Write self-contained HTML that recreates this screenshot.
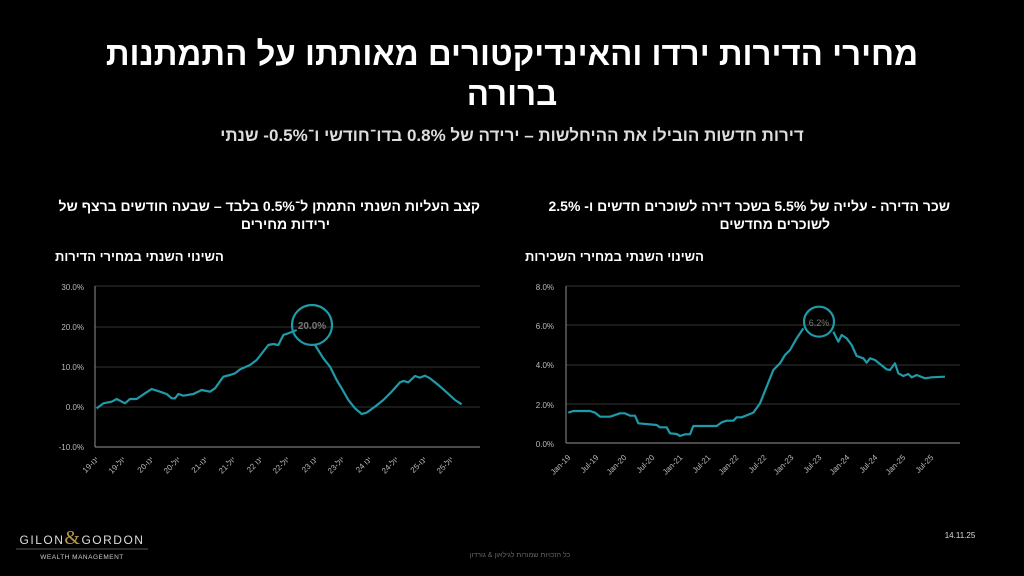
<!DOCTYPE html>
<html><head><meta charset="utf-8"><style>
body{margin:0;background:#000;width:1024px;height:576px;overflow:hidden;position:relative;font-family:"Liberation Sans","Noto Sans CJK SC",sans-serif;color:#fff}
.t{position:absolute;direction:rtl;white-space:nowrap}
</style></head><body>
<div class="t" style="left:0;width:1024px;top:34px;font-size:33px;font-weight:bold;line-height:40px;text-align:center">מחירי הדירות ירדו והאינדיקטורים מאותתו על התמתנות<br>ברורה</div>
<div class="t" style="left:0;width:1024px;top:126px;font-size:17px;font-weight:bold;color:#ddd;text-align:center">דירות חדשות הובילו את ההיחלשות – ירידה של 0.8% בדו־חודשי ו־0.5%- שנתי</div>
<div class="t" style="right:544px;top:198px;font-size:14px;font-weight:bold">קצב העליות השנתי התמתן ל־0.5% בלבד – שבעה חודשים ברצף של</div>
<div class="t" style="right:694px;top:216px;font-size:14px;font-weight:bold">ירידות מחירים</div>
<div class="t" style="left:55px;top:249px;font-size:13px;font-weight:bold">השינוי השנתי במחירי הדירות</div>
<div class="t" style="right:74px;top:198px;font-size:14px;font-weight:bold">שכר הדירה - עלייה של 5.5% בשכר דירה לשוכרים חדשים ו- 2.5%</div>
<div class="t" style="right:194px;top:216px;font-size:14px;font-weight:bold">לשוכרים מחדשים</div>
<div class="t" style="left:525px;top:249px;font-size:13px;font-weight:bold">השינוי השנתי במחירי השכירות</div>
<svg width="1024" height="576" style="position:absolute;left:0;top:0" font-family="Liberation Sans, Noto Sans CJK SC, sans-serif">
<g stroke="#333" stroke-width="1">
<line x1="95" y1="286" x2="480" y2="286"/><line x1="95" y1="327" x2="480" y2="327"/><line x1="95" y1="367" x2="480" y2="367"/><line x1="95" y1="407" x2="480" y2="407"/>
<line x1="566" y1="286" x2="960" y2="286"/><line x1="566" y1="325" x2="960" y2="325"/><line x1="566" y1="365" x2="960" y2="365"/><line x1="566" y1="404" x2="960" y2="404"/>
</g>
<g stroke="#777" stroke-width="1.2"><line x1="95" y1="286" x2="95" y2="447"/><line x1="95" y1="447" x2="480" y2="447"/><line x1="566" y1="286" x2="566" y2="443"/><line x1="566" y1="443" x2="960" y2="443"/></g>
<g fill="#bbb" font-size="8" text-anchor="end">
<text x="84" y="290">30.0%</text><text x="84" y="330">20.0%</text><text x="84" y="370">10.0%</text><text x="84" y="410">0.0%</text><text x="84" y="450">-10.0%</text>
<text x="554" y="290">8.0%</text><text x="554" y="329">6.0%</text><text x="554" y="368">4.0%</text><text x="554" y="408">2.0%</text><text x="554" y="447">0.0%</text>
</g>
<g fill="#bbb" font-size="8" text-anchor="end">
<text transform="translate(99,460) rotate(-45)">19-ינו</text><text transform="translate(126,460) rotate(-45)">19-יול</text><text transform="translate(154,460) rotate(-45)">20-ינו</text><text transform="translate(181,460) rotate(-45)">20-יול</text><text transform="translate(208,460) rotate(-45)">21-ינו</text><text transform="translate(236,460) rotate(-45)">21-יול</text><text transform="translate(263,460) rotate(-45)">22 ינו</text><text transform="translate(290,460) rotate(-45)">22-יול</text><text transform="translate(318,460) rotate(-45)">23 ינו</text><text transform="translate(345,460) rotate(-45)">23-יול</text><text transform="translate(372,460) rotate(-45)">24 ינו</text><text transform="translate(399,460) rotate(-45)">24-יול</text><text transform="translate(427,460) rotate(-45)">25-ינו</text><text transform="translate(454,460) rotate(-45)">25-יול</text>
<text transform="translate(571,458) rotate(-45)">Jan-19</text><text transform="translate(599,458) rotate(-45)">Jul-19</text><text transform="translate(627,458) rotate(-45)">Jan-20</text><text transform="translate(655,458) rotate(-45)">Jul-20</text><text transform="translate(683,458) rotate(-45)">Jan-21</text><text transform="translate(711,458) rotate(-45)">Jul-21</text><text transform="translate(739,458) rotate(-45)">Jan-22</text><text transform="translate(767,458) rotate(-45)">Jul-22</text><text transform="translate(794,458) rotate(-45)">Jan-23</text><text transform="translate(822,458) rotate(-45)">Jul-23</text><text transform="translate(850,458) rotate(-45)">Jan-24</text><text transform="translate(878,458) rotate(-45)">Jul-24</text><text transform="translate(906,458) rotate(-45)">Jan-25</text><text transform="translate(934,458) rotate(-45)">Jul-25</text>
</g>
<g transform="translate(50,270) scale(0.33333)" fill="none" stroke="#1f9aa8" stroke-width="2.2" stroke-linejoin="round">
<polyline vector-effect="non-scaling-stroke" points="140,415 160,400 185,395 200,387 225,400 240,387 260,387 285,370 305,357 330,365 350,372 365,385 375,385 385,372 400,377 430,372 455,360 480,365 495,355 520,320 540,315 555,310 570,298 600,285 620,270 655,225 670,222 685,225 700,195 720,188 740,180"/>
<polyline vector-effect="non-scaling-stroke" points="795,225 820,265 840,290 860,330 875,355 895,390 915,415 935,432 950,428 975,410 1000,390 1025,365 1050,337 1060,333 1075,337 1095,318 1110,323 1125,317 1140,325 1165,345 1190,367 1215,390 1235,403"/>
<circle vector-effect="non-scaling-stroke" cx="786" cy="165" r="60"/>
</g>
<g transform="translate(520,270) scale(0.33333)" fill="none" stroke="#1f9aa8" stroke-width="2.2" stroke-linejoin="round">
<polyline vector-effect="non-scaling-stroke" points="145,428 160,423 210,423 225,428 240,440 270,440 300,430 315,430 330,437 345,437 355,460 410,465 420,472 440,472 450,490 470,492 480,498 495,493 510,493 520,468 590,468 605,457 620,452 640,452 650,442 665,442 690,432 700,428 720,400 740,350 760,300 780,280 795,255 810,240 830,205 850,175"/>
<polyline vector-effect="non-scaling-stroke" points="940,185 955,215 965,195 980,205 995,225 1010,258 1030,265 1040,278 1050,265 1065,270 1100,298 1110,300 1125,280 1135,310 1150,318 1165,312 1175,322 1190,315 1215,325 1235,322 1275,320"/>
<circle vector-effect="non-scaling-stroke" cx="897" cy="155" r="45"/>
</g>
<text x="312" y="329" fill="#777" font-size="10" text-anchor="middle" font-weight="bold">20.0%</text>
<text x="819" y="326" fill="#777" font-size="9" text-anchor="middle">6.2%</text>
<text x="82" y="544" fill="#ddd" font-size="12" text-anchor="middle" letter-spacing="1.5">GILON<tspan fill="#b8954a" font-family="Liberation Serif, serif" font-size="20">&amp;</tspan>GORDON</text>
<line x1="16" y1="549" x2="148" y2="549" stroke="#555"/>
<text x="82" y="559" fill="#ccc" font-size="6.5" text-anchor="middle" letter-spacing="0.5">WEALTH MANAGEMENT</text>
<text x="960" y="538" fill="#ddd" font-size="8" text-anchor="middle">14.11.25</text>
<text x="520" y="557" fill="#666" font-size="7" text-anchor="middle" direction="rtl">כל הזכויות שמורות לגילאון &amp; גורדון</text>
</svg>
</body></html>
